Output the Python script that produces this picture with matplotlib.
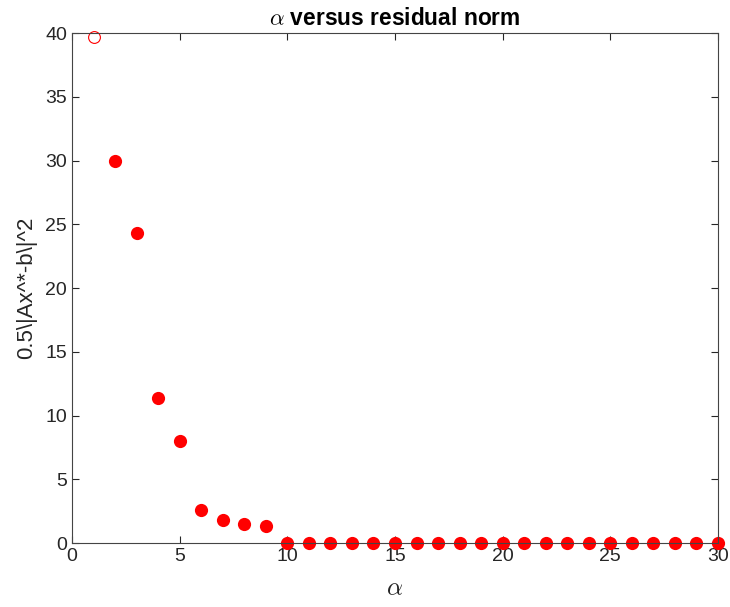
import numpy as np
import matplotlib
matplotlib.use('Agg')
import matplotlib.pyplot as plt

# Residual norm for each alpha
alpha = np.arange(1, 31)
residual = [39.7, 30.0, 24.3, 11.4, 8.0, 2.6, 1.8, 1.5, 1.3] + [0.0] * 21

plt.rcParams['font.family'] = ['Liberation Sans', 'DejaVu Sans']
plt.rcParams['mathtext.fontset'] = 'cm'

axis_color = '#262626'

fig = plt.figure(figsize=(7.3, 6.07), dpi=100)
ax = fig.add_axes([0.0986, 0.1054, 0.885, 0.8402])

# first point is hollow, the rest filled
ax.plot(alpha[:1], residual[:1], 'o', color='red', markerfacecolor='none',
        markersize=8.5, markeredgewidth=0.8, clip_on=False)
ax.plot(alpha[1:], residual[1:], 'o', color='red', markersize=9.5,
        markeredgewidth=0, clip_on=False)

ax.set_xlim(0, 30)
ax.set_ylim(0, 40)
ax.set_xticks(range(0, 31, 5))
ax.set_yticks(range(0, 41, 5))
ax.tick_params(direction='in', top=True, right=True, length=5,
               labelsize=14, colors=axis_color, width=0.8)
for s in ax.spines.values():
    s.set_color('#444444')
    s.set_linewidth(0.8)

ax.set_title(r'$\alpha$ versus residual norm', fontsize=16.4, fontweight='bold',
             color='black', pad=6)
ax.set_xlabel(r'$\alpha$', fontsize=18, color=axis_color, labelpad=8)
ax.set_ylabel(r'0.5\|Ax^*-b\|^2', fontsize=16, color=axis_color, labelpad=6)

fig.savefig('out.png', dpi=100)
